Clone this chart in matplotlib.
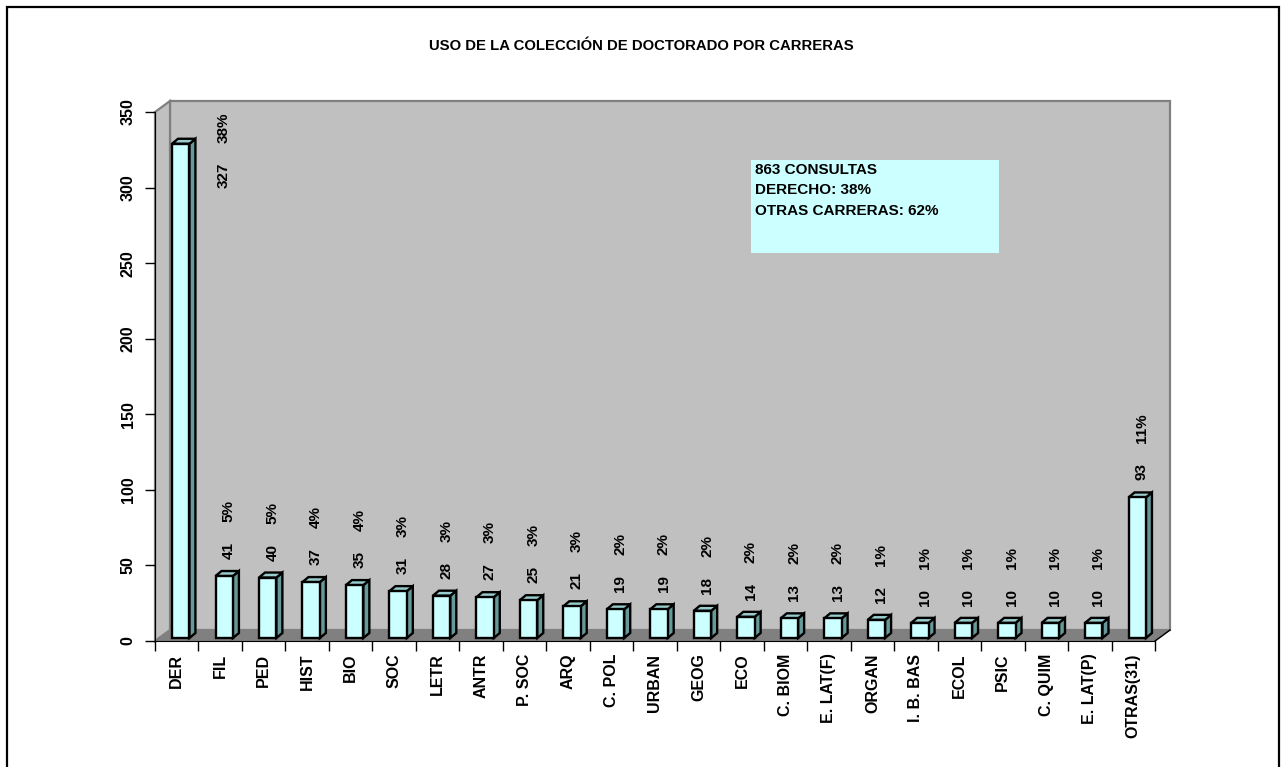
import matplotlib
matplotlib.use("Agg")
import matplotlib.pyplot as plt
from matplotlib.patches import Rectangle, Polygon
import numpy as np

plt.rcParams["font.family"] = ["Liberation Sans", "DejaVu Sans"]
plt.rcParams["font.weight"] = "bold"

# data
carreras = ["DER", "FIL", "PED", "HIST", "BIO", "SOC", "LETR", "ANTR", "P. SOC",
            "ARQ", "C. POL", "URBAN", "GEOG", "ECO", "C. BIOM", "E. LAT(F)",
            "ORGAN", "I. B. BAS", "ECOL", "PSIC", "C. QUIM", "E. LAT(P)", "OTRAS(31)"]
consultas = [327, 41, 40, 37, 35, 31, 28, 27, 25, 21, 19, 19, 18, 14, 13, 13,
             12, 10, 10, 10, 10, 10, 93]
porcentajes = [38, 5, 5, 4, 4, 3, 3, 3, 3, 3, 2, 2, 2, 2, 2, 2, 1, 1, 1, 1, 1, 1, 11]
titulo = "USO DE LA COLECCIÓN DE DOCTORADO POR CARRERAS"
nota = ["863 CONSULTAS", "DERECHO: 38%", "OTRAS CARRERAS: 62%"]

W, H = 1282, 767
fig = plt.figure(figsize=(W / 100, H / 100), dpi=100)

# axes = front plane of the 3d box (pixels)
ax_l, ax_r, ax_t, ax_b = 155, 1155, 112, 641
ax = fig.add_axes([ax_l / W, (H - ax_b) / H, (ax_r - ax_l) / W, (ax_b - ax_t) / H])
n = len(carreras)
ax.set_xlim(-0.5, n - 0.5)
ax.set_ylim(0, 350)
ax.patch.set_visible(False)

# pixel -> data unit helpers
ux = n / (ax_r - ax_l)
uy = 350 / (ax_b - ax_t)

# walls and floor
wx, wy = 15 * ux, 11 * uy
x0, x1 = -0.5, n - 0.5
back = Polygon([(x0 + wx, wy), (x1 + wx, wy), (x1 + wx, 350 + wy), (x0 + wx, 350 + wy)],
               closed=True, facecolor="#C0C0C0", edgecolor="#808080", lw=1.6,
               clip_on=False, zorder=0)
left = Polygon([(x0, 0), (x0 + wx, wy), (x0 + wx, 350 + wy), (x0, 350)],
               closed=True, facecolor="#C0C0C0", edgecolor="#808080", lw=1.6,
               clip_on=False, zorder=0.5)
floor = Polygon([(x0, 0), (x1, 0), (x1 + wx, wy), (x0 + wx, wy)],
                closed=True, facecolor="#808080", edgecolor="#808080", lw=1,
                clip_on=False, zorder=0.6)
for p in (back, left, floor):
    ax.add_patch(p)
ax.plot([x1, x1 + wx], [0, wy], color="black", lw=1, clip_on=False, zorder=0.7)

# bars (front faces + side + top)
x = np.arange(n)
bw = 0.4
bx = x + 4 * ux
by = 3 * uy
sdx, sdy = 6 * ux, 5 * uy
ax.bar(bx, consultas, width=bw, bottom=by, color="#CCFFFF", edgecolor="black",
       linewidth=1.7, zorder=3, clip_on=False)
for xi, v in zip(bx, consultas):
    r = xi + bw / 2
    l = xi - bw / 2
    top = v + by
    ax.add_patch(Polygon([(r, by), (r + sdx, by + sdy), (r + sdx, top + sdy), (r, top)],
                         closed=True, facecolor="#669999", edgecolor="black",
                         lw=1.7, zorder=2.9, clip_on=False))
    ax.add_patch(Polygon([(l, top), (r, top), (r + sdx, top + sdy), (l + sdx, top + sdy)],
                         closed=True, facecolor="#99CCCC", edgecolor="black",
                         lw=1.7, zorder=2.9, clip_on=False))

# data labels: value + percent, rotated
fs = 11
tfs = 11.5
for i, (v, p) in enumerate(zip(consultas, porcentajes)):
    if i == 0:
        # DER label was moved beside the bar in the original
        t = ax.annotate(str(v), xy=(i + 0.2, v), xytext=(38, -16),
                        textcoords="offset pixels", rotation=90, ha="center",
                        va="top", fontsize=fs, fontweight="bold", zorder=5)
    else:
        t = ax.annotate(str(v), xy=(i + 0.2, v), xytext=(0, 20),
                        textcoords="offset pixels", rotation=90, ha="center",
                        va="bottom", fontsize=fs, fontweight="bold", zorder=5)
    ax.annotate(f"{p}%", xy=(0.5, 1), xycoords=t, xytext=(0, 20),
                textcoords="offset pixels", rotation=90, ha="center",
                va="bottom", fontsize=fs, fontweight="bold", zorder=5)

# axes styling
for s in ("top", "right"):
    ax.spines[s].set_visible(False)
ax.spines["left"].set_color("black")
ax.spines["bottom"].set_color("black")
ax.spines["left"].set_zorder(4)
ax.spines["bottom"].set_zorder(4)
ax.set_yticks(np.arange(0, 351, 50))
ax.tick_params(axis="y", length=7, width=1, pad=7, labelsize=tfs, labelrotation=90)
for lab in ax.get_yticklabels():
    lab.set_va("center")
    lab.set_fontweight("bold")
ax.set_xticks(x)
ax.set_xticklabels(carreras, rotation=90, fontsize=tfs, fontweight="bold")
ax.set_xticks(np.arange(-0.5, n, 1), minor=True)
ax.tick_params(axis="x", which="major", length=0, pad=9)
ax.tick_params(axis="x", which="minor", length=7, width=1, color="black")

# note box
ax.add_patch(Rectangle((0.596, 0.733), 0.248, 0.176, transform=ax.transAxes,
                       facecolor="#CCFFFF", edgecolor="none", zorder=1))
ax.text(0.6, 0.904, "\n".join(nota), transform=ax.transAxes, ha="left", va="top",
        fontsize=11, fontweight="bold", linespacing=1.6, zorder=2)

fig.text(0.5, 1 - 46 / H, titulo, ha="center", va="center", fontsize=10.7,
         fontweight="bold")

# outer frame
fig.patches.append(Rectangle((7 / W, -0.02), (1279 - 7) / W, (H - 7) / H + 0.02,
                             transform=fig.transFigure, fill=False,
                             edgecolor="black", lw=1.6))

fig.savefig("out.png", dpi=100)
